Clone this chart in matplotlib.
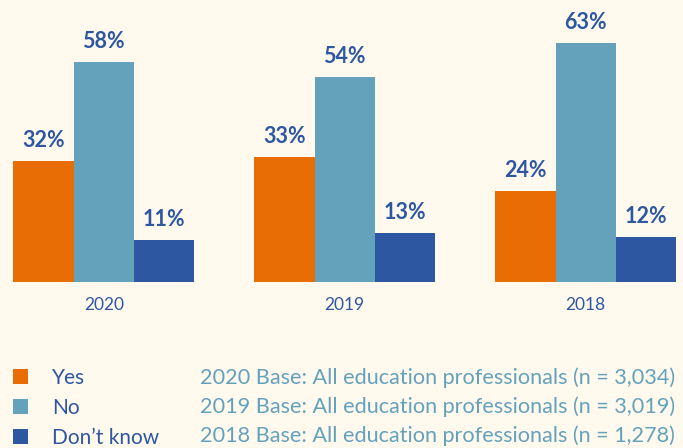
import matplotlib
matplotlib.use("Agg")
import matplotlib.pyplot as plt
import numpy as np

years = ["2020", "2019", "2018"]
answers = ["Yes", "No", "Don\u2019t know"]
yes_vals = [32, 33, 24]
no_vals = [58, 54, 63]
dont_know_vals = [11, 13, 12]
base_notes = [
    "2020 Base: All education professionals (n = 3,034)",
    "2019 Base: All education professionals (n = 3,019)",
    "2018 Base: All education professionals (n = 1,278)",
]

bg = "#FFF9EE"
orange = "#E96D05"
light_blue = "#64A2BC"
dark_blue = "#2D57A1"

plt.rcParams["font.family"] = ["Lato", "DejaVu Sans"]

W, H = 683, 448
fig = plt.figure(figsize=(W / 100, H / 100), dpi=100, facecolor=bg)
# axes spans the full width, bottom edge at the bar baseline
ax = fig.add_axes([0, (H - 282) / H, 1, 282 / H])
ax.set_facecolor(bg)

x = np.arange(len(years))
w = 0.251
series = [yes_vals, no_vals, dont_know_vals]
colors = [orange, light_blue, dark_blue]
bars = []
for i, (vals, c, lab) in enumerate(zip(series, colors, answers)):
    b = ax.bar(x + (i - 1) * w, vals, w, color=c, label=lab, linewidth=0)
    bars.append(b)
    for rect, v in zip(b, vals):
        ax.annotate(f"{v}%", (rect.get_x() + rect.get_width() / 2, v),
                    xytext=(0, 10), textcoords="offset points",
                    ha="center", va="baseline", fontsize=15.5,
                    fontweight="bold", color=dark_blue)

ax.set_xlim(-103.75 / 241, (W - 103.75) / 241)
ax.set_ylim(0, 282 / 3.79)
ax.set_xticks(x)
ax.set_xticklabels(years, fontsize=12.5, color=dark_blue)
ax.tick_params(axis="x", length=0, pad=11)
ax.set_yticks([])
for s in ax.spines.values():
    s.set_visible(False)

fs = 15
leg = fig.legend(handles=bars, labels=answers, loc="upper left",
                 bbox_to_anchor=(13 / W, 1 - 368 / H), frameon=False,
                 fontsize=fs, labelcolor=dark_blue,
                 handlelength=0.72, handleheight=0.72, handletextpad=1.15,
                 labelspacing=0.47, borderpad=0, borderaxespad=0)

for k, note in enumerate(base_notes):
    fig.text(200 / W, 1 - (378 + 29 * k) / H, note, fontsize=15.6,
             color=light_blue, va="center", ha="left")

fig.savefig("out.png", dpi=100, facecolor=bg)
